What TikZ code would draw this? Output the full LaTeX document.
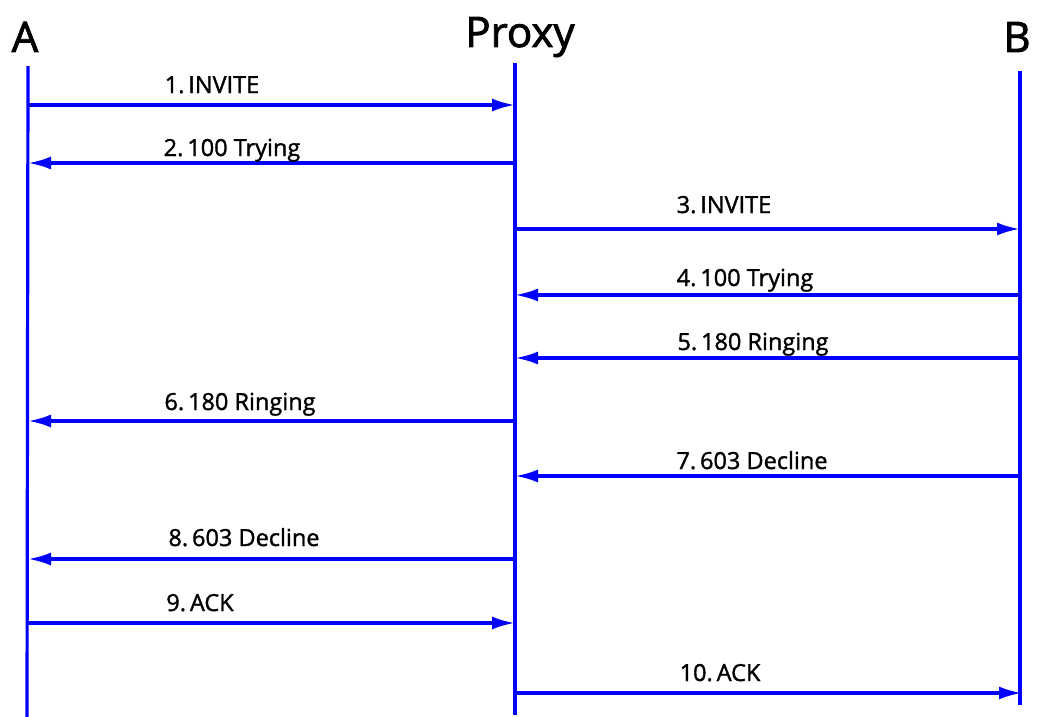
\documentclass[tikz,border=0pt]{standalone}
\usepackage{fontspec}
\setmainfont{Open Sans}
\newfontfamily\lblfont{Open Sans}[FakeBold=1.4]
\newfontfamily\whofont{Open Sans}[FakeBold=2]
\usetikzlibrary{arrows.meta}

\begin{document}
\begin{tikzpicture}[x=1pt,y=-1pt,
  life/.style={draw=blue,line width=3.2pt},
  msg/.style={draw=blue,line width=3.2pt,-{Latex[length=23pt,width=13pt]}},
  who/.style={font=\whofont\fontsize{42}{46}\selectfont,anchor=base},
  lbl/.style={font=\lblfont\fontsize{23.5}{26}\selectfont,anchor=base}]
\useasboundingbox (0,0) rectangle (1037,717);
% participants
\node[who] (A) at (25,52) {A};
\node[who] (P) at (520,47) {Proxy};
\node[who] (B) at (1017,52) {B};
% lifelines
\coordinate (at) at (28,66);  \coordinate (ab) at (27,717);
\coordinate (pt) at (515,63); \coordinate (pb) at (515,715);
\coordinate (bt) at (1020,71); \coordinate (bb) at (1020,705);
\draw[life] (at) -- (ab);
\draw[life] (pt) -- (pb);
\draw[life] (bt) -- (bb);
% messages
\coordinate (a1) at (28,105);  \coordinate (p1) at (515,105);
\coordinate (p2) at (515,163); \coordinate (a2) at (28,163);
\coordinate (p3) at (515,229); \coordinate (b3) at (1020,229);
\coordinate (b4) at (1020,295); \coordinate (p4) at (515,295);
\coordinate (b5) at (1022,358); \coordinate (p5) at (515,358);
\coordinate (p6) at (515,421); \coordinate (a6) at (28,421);
\coordinate (b7) at (1022,476); \coordinate (p7) at (515,476);
\coordinate (p8) at (515,559); \coordinate (a8) at (28,559);
\coordinate (a9) at (28,623);  \coordinate (p9) at (515,623);
\coordinate (p10) at (515,693); \coordinate (b10) at (1022,693);
\draw[msg] (a1) -- (p1);
\draw[msg] (p2) -- (a2);
\draw[msg] (p3) -- (b3);
\draw[msg] (b4) -- (p4);
\draw[msg] (b5) -- (p5);
\draw[msg] (p6) -- (a6);
\draw[msg] (b7) -- (p7);
\draw[msg] (p8) -- (a8);
\draw[msg] (a9) -- (p9);
\draw[msg] (p10) -- (b10);
% labels
\node[lbl] (l1) at (212,93) {1.\,INVITE};
\node[lbl] (l2) at (232,156) {2.\,100 Trying};
\node[lbl] (l3) at (724,213) {3.\,INVITE};
\node[lbl] (l4) at (745,286) {4.\,100 Trying};
\node[lbl] (l5) at (753,350) {5.\,180 Ringing};
\node[lbl] (l6) at (240,410) {6.\,180 Ringing};
\node[lbl] (l7) at (752,469) {7.\,603 Decline};
\node[lbl] (l8) at (244,546) {8.\,603 Decline};
\node[lbl] (l9) at (200,611) {9.\,ACK};
\node[lbl] (l10) at (720,681) {10.\,ACK};
\end{tikzpicture}
\end{document}
